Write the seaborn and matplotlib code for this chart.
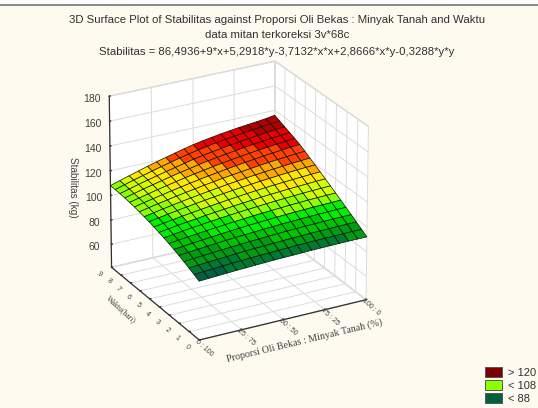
import numpy as np
import pandas as pd
import seaborn as sns
import matplotlib.pyplot as plt
from matplotlib.colors import BoundaryNorm, ListedColormap
from matplotlib.patches import Patch, Rectangle

# proporsi on x, waktu on y, stabilitas
proporsi = [0, 5.6, 11.1, 16.7, 22.2, 27.8, 33.3, 38.9, 44.4, 50, 55.6, 61.1, 66.7, 72.2, 77.8, 83.3, 88.9, 94.4, 100]
waktu = [0, 0.5, 1, 1.5, 2, 2.5, 3, 3.5, 4, 4.5, 5, 5.5, 6, 6.5, 7, 7.5, 8, 8.5, 9]
stabilitas = [
    [88.0, 88.4, 88.8, 89.2, 89.6, 89.9, 90.2, 90.5, 90.8, 91.0, 91.2, 91.4, 91.6, 91.7, 91.8, 91.9, 92.0, 92.0, 92.0],
    [90.1, 90.6, 91.1, 91.5, 91.9, 92.3, 92.7, 93.0, 93.3, 93.6, 93.9, 94.1, 94.3, 94.5, 94.6, 94.7, 94.8, 94.9, 94.9],
    [92.0, 92.6, 93.1, 93.6, 94.1, 94.6, 95.0, 95.4, 95.7, 96.1, 96.4, 96.6, 96.9, 97.1, 97.3, 97.4, 97.6, 97.6, 97.7],
    [93.8, 94.5, 95.1, 95.7, 96.2, 96.7, 97.2, 97.7, 98.1, 98.5, 98.8, 99.2, 99.5, 99.7, 99.9, 100.1, 100.3, 100.4, 100.5],
    [95.6, 96.3, 97.0, 97.7, 98.3, 98.9, 99.5, 100.0, 100.4, 100.9, 101.3, 101.7, 102.0, 102.3, 102.6, 102.8, 103.0, 103.2, 103.3],
    [97.2, 98.0, 98.8, 99.5, 100.2, 100.9, 101.5, 102.1, 102.7, 103.2, 103.6, 104.1, 104.5, 104.8, 105.1, 105.4, 105.6, 105.8, 106.0],
    [98.7, 99.6, 100.5, 101.3, 102.1, 102.8, 103.5, 104.2, 104.8, 105.4, 105.9, 106.4, 106.8, 107.3, 107.6, 108.0, 108.3, 108.5, 108.7],
    [100.1, 101.1, 102.1, 103.0, 103.8, 104.7, 105.5, 106.2, 106.9, 107.5, 108.1, 108.7, 109.2, 109.7, 110.1, 110.5, 110.9, 111.1, 111.4],
    [101.3, 102.4, 103.5, 104.5, 105.4, 106.4, 107.2, 108.0, 108.8, 109.5, 110.2, 110.9, 111.5, 112.0, 112.5, 112.9, 113.3, 113.7, 114.0],
    [102.5, 103.7, 104.9, 106.0, 107.0, 108.0, 109.0, 109.9, 110.8, 111.6, 112.4, 113.1, 113.8, 114.4, 114.9, 115.4, 115.9, 116.3, 116.7],
    [103.6, 104.9, 106.2, 107.4, 108.6, 109.7, 110.7, 111.7, 112.7, 113.6, 114.4, 115.2, 116.0, 116.6, 117.3, 117.9, 118.4, 118.9, 119.3],
    [104.5, 105.9, 107.3, 108.6, 109.9, 111.1, 112.2, 113.3, 114.4, 115.4, 116.3, 117.2, 118.0, 118.8, 119.5, 120.1, 120.8, 121.3, 121.8],
    [105.3, 106.9, 108.4, 109.8, 111.2, 112.5, 113.7, 115.0, 116.1, 117.2, 118.2, 119.2, 120.1, 121.0, 121.8, 122.5, 123.2, 123.8, 124.4],
    [106.1, 107.8, 109.4, 110.9, 112.4, 113.8, 115.2, 116.5, 117.8, 118.9, 120.1, 121.1, 122.1, 123.1, 124.0, 124.8, 125.6, 126.3, 126.9],
    [106.7, 108.5, 110.2, 111.9, 113.5, 115.1, 116.6, 118.0, 119.3, 120.6, 121.7, 122.9, 123.9, 124.8, 125.8, 126.6, 127.4, 128.2, 128.8],
    [107.2, 109.1, 111.0, 112.8, 114.5, 116.2, 117.8, 119.3, 120.8, 122.2, 123.4, 124.5, 125.6, 126.6, 127.5, 128.4, 129.2, 129.9, 130.6],
    [107.6, 109.7, 111.7, 113.6, 115.4, 117.2, 118.9, 120.6, 122.2, 123.7, 124.9, 126.1, 127.2, 128.2, 129.2, 130.1, 131.0, 131.7, 132.4],
    [107.8, 110.0, 112.2, 114.2, 116.2, 118.1, 120.0, 121.8, 123.5, 125.1, 126.4, 127.7, 128.8, 129.8, 130.9, 131.8, 132.7, 133.5, 134.2],
    [108.0, 110.4, 112.6, 114.8, 117.0, 119.0, 121.0, 122.9, 124.7, 126.5, 127.9, 129.1, 130.3, 131.3, 132.3, 133.1, 133.9, 134.8, 136.0],
]

x_ticks = [0, 25, 50, 75, 100]
x_labels = ['0 : 100', '25 : 75', '50 : 50', '75 : 25', '100 : 0']
y_ticks = [0, 1, 2, 3, 4, 5, 6, 7, 8, 9]
z_ticks = [60, 80, 100, 120, 140, 160, 180]

band_levels = [40, 89, 92, 96, 100, 104, 108, 112, 116, 120, 125, 130, 135, 180]
band_colors = ['#00603f', '#007a2e', '#009c12', '#00c400', '#00f000', '#8cff00', '#d2ff00', '#ffe800',
               '#ffa800', '#ff4000', '#e80000', '#b00000', '#7c0000']
legend_labels = ['> 120', '< 108', '< 88']
legend_colors = ['#7c0000', '#8cff00', '#00603f']

background = '#fffaf0'

sns.set_theme(style='white')
plt.rcParams['font.family'] = ['Liberation Sans', 'DejaVu Sans']

df = pd.DataFrame(stabilitas, index=waktu, columns=proporsi)
X, Y = np.meshgrid(df.columns.values, df.index.values)
Z = df.values

cmap = ListedColormap(band_colors)
norm = BoundaryNorm(band_levels, cmap.N)

fig = plt.figure(figsize=(5.38, 4.08), dpi=100, facecolor=background)
ax = fig.add_axes([0.064, 0.114, 0.74, 0.78], projection='3d', facecolor='none')

ax.plot_surface(X, Y, Z, facecolors=cmap(norm(Z)), rcount=19, ccount=19, shade=False,
                edgecolor='#101010', linewidth=0.5, antialiased=True)

ax.set_xlim(0, 100)
ax.set_ylim(0, 9)
ax.set_zlim(41, 180)
ax.set_box_aspect((1, 1, 1), zoom=1.0)
ax.set_proj_type('persp', focal_length=2.5)
ax.view_init(elev=24.5, azim=-118.6)

ax.set_xticks(x_ticks, x_labels)
ax.set_yticks(y_ticks)
ax.set_zticks(z_ticks)
ax.tick_params(axis='x', labelsize=5, pad=-9, colors='#404040')
ax.tick_params(axis='y', labelsize=5, pad=-2, colors='#404040')
ax.tick_params(axis='z', labelsize=7.5, pad=0, colors='#404040')
for lab in ax.get_xticklabels():
    lab.set_rotation(-42)
    lab.set_rotation_mode('anchor')
    lab.set_ha('left')
for lab in ax.get_yticklabels():
    lab.set_rotation(-42)
    lab.set_ha('right')
    lab.set_va('bottom')

for axis in [ax.xaxis, ax.yaxis, ax.zaxis]:
    axis.set_pane_color('white')
    axis.pane.set_edgecolor('#d8d8d8')
    axis._axinfo['grid']['color'] = '#dcdcdc'
    axis._axinfo['grid']['linewidth'] = 0.7
    axis._axinfo['axisline']['color'] = '#303030'
    axis._axinfo['tick']['color'] = '#303030'
    axis._axinfo['tick']['inward_factor'] = 0.0
    axis._axinfo['tick']['outward_factor'] = 0.07
    axis.line.set_color('#303030')
    axis.line.set_linewidth(0.9)

fig.text(305 / 538, 1 - 341 / 408, 'Proporsi Oli Bekas : Minyak Tanah (%)', fontsize=7.2, rotation=13.5,
         family='Liberation Serif', color='#404040', ha='center', va='center')
fig.text(121 / 538, 1 - 310 / 408, 'Waktu(hari)', fontsize=5.5, rotation=-42, family='Liberation Serif',
         color='#404040', ha='center', va='center')
fig.text(73 / 538, 1 - 187 / 408, 'Stabilitas (kg)', fontsize=7.2, rotation=-90, color='#404040',
         ha='center', va='center')

fig.text(277 / 538, 1 - 20 / 408, '3D Surface Plot of Stabilitas against Proporsi Oli Bekas : Minyak Tanah and Waktu',
         fontsize=8.2, color='#303030', ha='center', va='center')
fig.text(277 / 538, 1 - 35 / 408, 'data mitan terkoreksi 3v*68c', fontsize=8.2, color='#303030', ha='center', va='center')
fig.text(277 / 538, 1 - 52 / 408, 'Stabilitas = 86,4936+9*x+5,2918*y-3,7132*x*x+2,8666*x*y-0,3288*y*y',
         fontsize=8.2, color='#303030', ha='center', va='center')

handles = [Patch(facecolor=c, edgecolor='#555555', linewidth=0.7) for c in legend_colors]
fig.legend(handles, legend_labels, loc='lower right', bbox_to_anchor=(1.0, 0.004), frameon=False, fontsize=8,
           handlelength=1.53, handleheight=1.0, labelspacing=0.21, handletextpad=0.55, borderpad=0.1,
           borderaxespad=0.1, labelcolor='#303030')

# the grey rule along the top of the picture
fig.add_artist(Rectangle((0, 1 - 6 / 408), 1, 2 / 408, transform=fig.transFigure, facecolor='#8c8c8c', edgecolor='none'))
fig.add_artist(Rectangle((0, 1 - 4 / 408), 1, 4 / 408, transform=fig.transFigure, facecolor='white', edgecolor='none'))

plt.savefig('out.png', dpi=100, facecolor=background)
